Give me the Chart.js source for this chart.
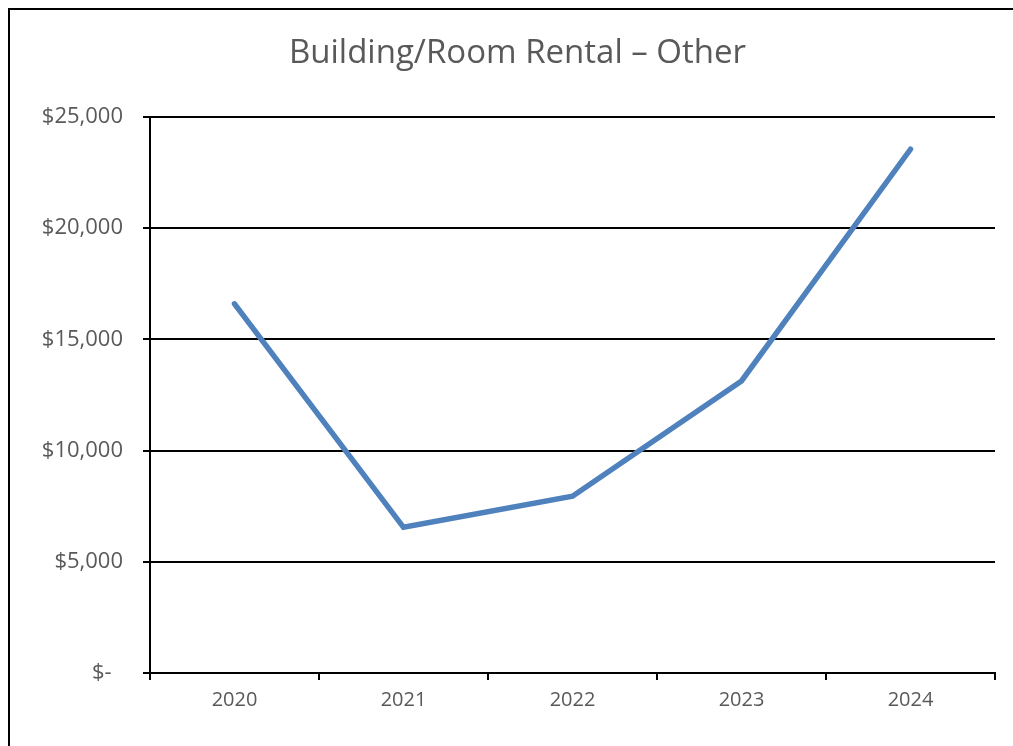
<!DOCTYPE html>
<html>
<head>
<meta charset="utf-8">
<script src="https://cdn.jsdelivr.net/npm/chart.js@4/dist/chart.umd.min.js"></script>
<style>
  html, body { margin: 0; padding: 0; background: #fff; overflow: hidden; width: 1013px; height: 746px; }
  #frame { position: absolute; left: 8px; top: 8px; width: 1200px; height: 1000px; border: 2px solid #000; box-sizing: border-box; }
  #wrap { position: absolute; left: 0; top: 0; width: 1013px; height: 746px; }
</style>
</head>
<body>
<div id="frame"></div>
<div id="wrap"><canvas id="c" width="1013" height="746"></canvas></div>
<script>
const chartTitle = "Building/Room Rental – Other";
const categories = ["2020", "2021", "2022", "2023", "2024"];
const rentalValues = [16600, 6550, 7950, 13130, 23550];
const yTickValues = [0, 5000, 10000, 15000, 20000, 25000];
const yTickLabels = ["$-  ", "$5,000", "$10,000", "$15,000", "$20,000", "$25,000"];

const textColor = "#595959";
const fontFamily = "'Open Sans', 'Liberation Sans', sans-serif";

new Chart(document.getElementById("c"), {
  type: "line",
  data: {
    labels: categories,
    datasets: [{
      data: rentalValues,
      borderColor: "#4f81bd",
      borderWidth: 5.5,
      borderCapStyle: "round",
      pointRadius: 0,
      pointHoverRadius: 0,
      tension: 0,
      fill: false
    }]
  },
  options: {
    responsive: false,
    animation: false,
    events: [],
    layout: { padding: { left: 40, top: 5, right: 18, bottom: 0 } },
    plugins: {
      legend: { display: false },
      tooltip: { enabled: false },
      title: {
        display: true,
        text: chartTitle,
        color: textColor,
        font: { family: fontFamily, size: 33, weight: "normal", lineHeight: 1.2 },
        padding: { top: 29, bottom: 43.4 }
      }
    },
    scales: {
      x: {
        offset: true,
        grid: {
          offset: true,
          drawOnChartArea: false,
          drawTicks: true,
          tickLength: 7,
          color: "#000",
          lineWidth: 2
        },
        border: { display: true, color: "#000", width: 2 },
        ticks: {
          color: textColor,
          font: { family: fontFamily, size: 20 },
          padding: 8,
          maxRotation: 0
        },
        afterFit: (s) => { s.height = 73; }
      },
      y: {
        min: 0,
        max: 25000,
        afterBuildTicks: (s) => { s.ticks = yTickValues.map(v => ({ value: v })); },
        grid: {
          drawTicks: true,
          tickLength: 7,
          color: "#000",
          lineWidth: 2
        },
        border: { display: true, color: "#000", width: 2 },
        ticks: {
          color: textColor,
          font: { family: fontFamily, size: 22 },
          padding: 20,
          callback: (v) => yTickLabels[yTickValues.indexOf(v)]
        },
        afterFit: (s) => { s.width = 110; }
      }
    }
  }
});
</script>
</body>
</html>
